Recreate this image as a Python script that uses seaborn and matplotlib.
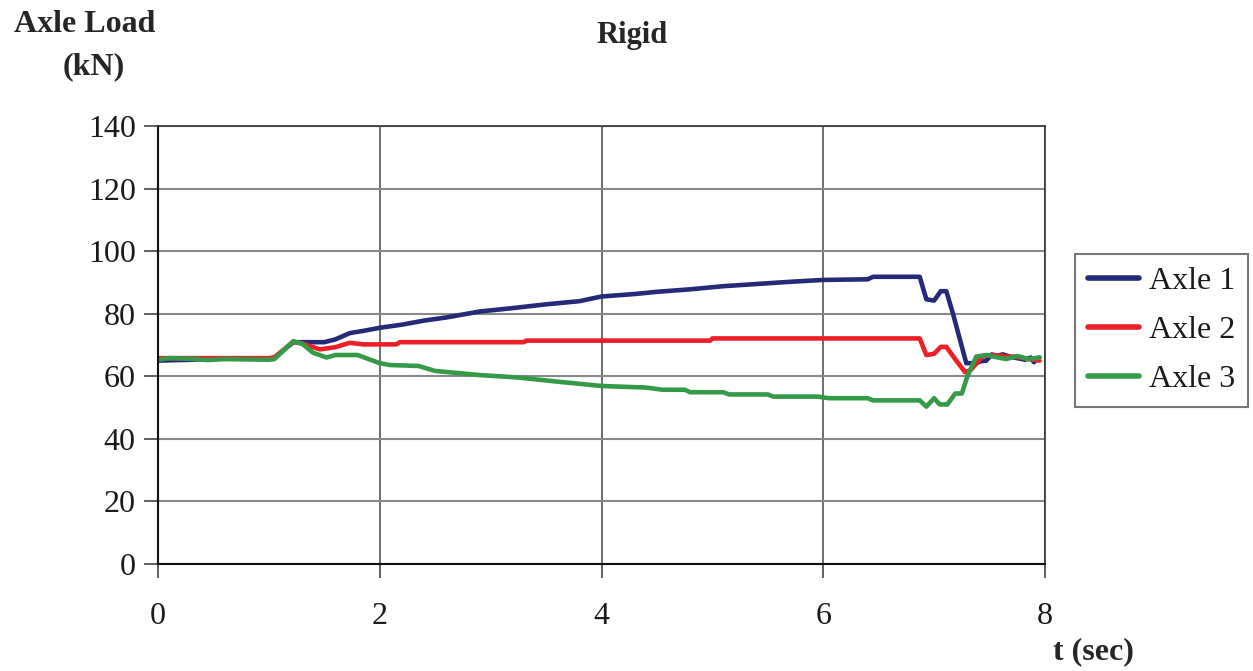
import pandas as pd
import matplotlib
matplotlib.use("Agg")
import matplotlib.pyplot as plt
import seaborn as sns

sns.set_theme(style="white")
plt.rcParams['font.family'] = ['Liberation Serif', 'DejaVu Serif']

# Axle 1
t_axle1 = [0, 0.3, 0.5, 1.0, 1.05, 1.22, 1.3, 1.5, 1.6, 1.73, 1.85, 2.0, 2.2, 2.4,
           2.6, 2.9, 3.2, 3.5, 3.8, 4.0, 4.3, 4.5, 4.8, 5.1, 5.4, 5.7, 6.0, 6.4,
           6.45, 6.87, 6.93, 7.0, 7.06, 7.11, 7.17, 7.29, 7.38, 7.42, 7.47, 7.52,
           7.56, 7.62, 7.68, 7.75, 7.82, 7.87, 7.9, 7.95]
load_axle1 = [65, 65.3, 65.6, 65.6, 66, 70.9, 70.9, 70.9, 71.8, 73.8, 74.5, 75.5,
              76.5, 77.8, 78.8, 80.7, 81.8, 83, 84, 85.5, 86.3, 87, 87.8, 88.8,
              89.5, 90.2, 90.8, 91, 91.8, 91.8, 84.6, 84.2, 87.2, 87.2, 80, 64.2,
              64.2, 64.8, 65, 67, 66.5, 67, 66.3, 65.8, 65.3, 66, 64.5, 66]

# Axle 2
t_axle2 = [0, 1.0, 1.05, 1.22, 1.3, 1.46, 1.6, 1.73, 1.85, 2.15, 2.18, 3.3, 3.32,
           4.98, 5.0, 6.87, 6.93, 7.0, 7.06, 7.11, 7.2, 7.28, 7.33, 7.44, 7.55,
           7.65, 7.75, 7.85, 7.95]
load_axle2 = [65.8, 65.8, 66, 71, 70.5, 68.6, 69.3, 70.7, 70.2, 70.2, 70.9, 70.9,
              71.4, 71.4, 72.1, 72.1, 66.8, 67.2, 69.4, 69.4, 65, 61.3, 62, 66.5,
              66.8, 66.3, 66.2, 65.5, 65]

# Axle 3
t_axle3 = [0, 0.1, 0.3, 0.45, 0.6, 1.0, 1.05, 1.22, 1.3, 1.4, 1.52, 1.6, 1.8, 2.0,
           2.09, 2.35, 2.5, 2.9, 3.25, 3.6, 4.0, 4.4, 4.55, 4.75, 4.8, 5.1, 5.15,
           5.5, 5.55, 5.95, 6.05, 6.4, 6.45, 6.87, 6.93, 7.0, 7.05, 7.12, 7.19,
           7.25, 7.3, 7.38, 7.48, 7.55, 7.65, 7.75, 7.85, 7.95]
load_axle3 = [65.3, 65.8, 65.6, 65.2, 65.5, 65.3, 65.5, 71.2, 70.4, 67.5, 66.0,
              66.8, 66.8, 64.2, 63.6, 63.3, 61.7, 60.4, 59.6, 58.3, 56.9, 56.4,
              55.7, 55.7, 54.9, 54.9, 54.2, 54.2, 53.5, 53.5, 53.0, 53.0, 52.3,
              52.3, 50.3, 53, 51, 51, 54.5, 54.5, 60, 66.3, 66.8, 66.2, 65.5,
              66.5, 65.5, 66]

series = [("Axle 1", t_axle1, load_axle1, "#242a78"),
          ("Axle 2", t_axle2, load_axle2, "#ec1f26"),
          ("Axle 3", t_axle3, load_axle3, "#349a47")]

x_ticks = [0, 2, 4, 6, 8]
y_ticks = [0, 20, 40, 60, 80, 100, 120, 140]

fig = plt.figure(figsize=(12.53, 6.71), dpi=100)
ax = fig.add_axes([158 / 1253, 1 - 564 / 671, 887 / 1253, 438 / 671])

for name, t, v, c in series:
    df = pd.DataFrame({"t": t, "load": v})
    sns.lineplot(data=df, x="t", y="load", ax=ax, color=c, lw=3.3, label=name)

ax.set_xlim(0, 8)
ax.set_ylim(0, 140)
ax.set_xticks(x_ticks)
ax.set_yticks(y_ticks)
ax.set_xlabel("")
ax.set_ylabel("")
ax.tick_params(axis='both', direction='out', length=10, width=1.2, color='#444',
               labelsize=23, labelcolor='#1a1a1a', bottom=True, left=True, pad=6)
ax.tick_params(axis='x', pad=17)
ax.xaxis.grid(True, color='#555', lw=1.2)
ax.yaxis.grid(True, color='#888', lw=1.5)
ax.set_axisbelow(True)
for side in ['left', 'bottom']:
    ax.spines[side].set_color('#111')
    ax.spines[side].set_linewidth(1.5)
for side in ['top', 'right']:
    ax.spines[side].set_color('#333')
    ax.spines[side].set_linewidth(1.2)

leg = ax.legend(loc='upper left', bbox_to_anchor=(1.034, 0.708), borderaxespad=0,
                fontsize=23, frameon=True, fancybox=False, handlelength=1.6,
                handletextpad=0.3, labelspacing=0.62, borderpad=0.4)
leg.get_frame().set_edgecolor('#555')
leg.get_frame().set_linewidth(1.5)
for line in leg.get_lines():
    line.set_linewidth(4)
for txt in leg.get_texts():
    txt.set_color('#1a1a1a')

fig.text(632 / 1253, 1 - 35 / 671, "Rigid", ha='center', va='center',
         fontsize=22, fontweight='bold')
fig.text(85 / 1253, 1 - 25 / 671, "Axle Load", ha='center', va='center',
         fontsize=23, fontweight='bold')
fig.text(94 / 1253, 1 - 67 / 671, "(kN)", ha='center', va='center',
         fontsize=23, fontweight='bold')
fig.text(1093 / 1253, 1 - 652 / 671, "t (sec)", ha='center', va='center',
         fontsize=23, fontweight='bold')

fig.savefig("out.png", dpi=100)
